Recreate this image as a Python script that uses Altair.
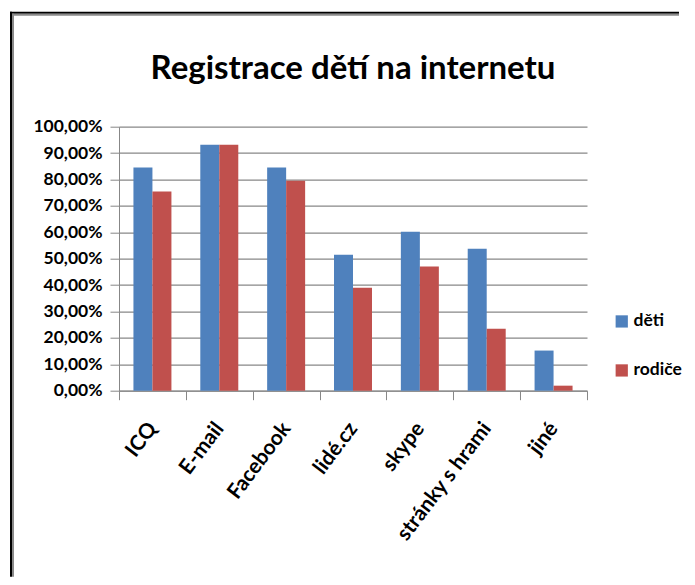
import altair as alt
import pandas as pd

categories = ["ICQ", "E-mail", "Facebook", "lidé.cz", "skype", "stránky s hrami", "jiné"]
series = ["děti", "rodiče"]
deti = [0.845, 0.932, 0.845, 0.515, 0.602, 0.538, 0.152]
rodice = [0.755, 0.932, 0.795, 0.390, 0.470, 0.235, 0.019]
colors = ["#4F81BD", "#C0504D"]
y_ticks = [0.0, 0.1, 0.2, 0.3, 0.4, 0.5, 0.6, 0.7, 0.8, 0.9, 1.0]
title_text = "Registrace dětí na internetu"

rows = []
for c, d, r in zip(categories, deti, rodice):
    rows.append({"kategorie": c, "skupina": series[0], "hodnota": d})
    rows.append({"kategorie": c, "skupina": series[1], "hodnota": r})
df = pd.DataFrame(rows)

FONT = "Lato"
GRID = "#878787"

bars = alt.Chart(df).mark_bar().encode(
    x=alt.X(
        "kategorie:N",
        sort=categories,
        scale=alt.Scale(paddingInner=0, paddingOuter=0),
        axis=alt.Axis(
            title=None,
            labelAngle=-53,
            labelAlign="right",
            labelBaseline="middle",
            labelFont=FONT,
            labelFontSize=21,
            labelFontWeight="bold",
            labelColor="black",
            labelPadding=25,
            labelOffset=0,
            tickBand="extent",
            tickSize=9,
            tickColor=GRID,
            domainColor=GRID,
            grid=False,
        ),
    ),
    xOffset=alt.XOffset("skupina:N", sort=series,
                        scale=alt.Scale(paddingOuter=0.76, paddingInner=0)),
    y=alt.Y(
        "hodnota:Q",
        scale=alt.Scale(domain=[0, 1], nice=False),
        axis=alt.Axis(
            title=None,
            values=y_ticks,
            labelExpr="replace(format(datum.value, '.2%'), '.', ',')",
            labelFont=FONT,
            labelFontSize=17.5,
            labelFontWeight="bold",
            labelColor="black",
            labelPadding=8,
            labelFlush=False,
            labelOverlap=False,
            tickSize=9,
            tickColor=GRID,
            domainColor=GRID,
            gridColor=GRID,
            gridWidth=1.2,
        ),
    ),
    color=alt.Color(
        "skupina:N",
        scale=alt.Scale(domain=series, range=colors),
        legend=alt.Legend(
            title=None,
            orient="none",
            legendX=494,
            legendY=186,
            symbolType="square",
            symbolSize=150,
            symbolStrokeWidth=0,
            labelFont=FONT,
            labelFontSize=17.5,
            labelFontWeight="bold",
            labelColor="black",
            labelOffset=3,
            rowPadding=30,
        ),
    ),
)

one = alt.Data(values=[{"k": 1}])
frame_top = alt.Chart(one).mark_rule(color="black", strokeWidth=2).encode(
    x=alt.value(-109), x2=alt.value(560), y=alt.value(-114))
frame_top2 = alt.Chart(one).mark_rule(color="#8a8a8a", strokeWidth=2).encode(
    x=alt.value(-107), x2=alt.value(560), y=alt.value(-112))
frame_left = alt.Chart(one).mark_rule(color="black", strokeWidth=2).encode(
    x=alt.value(-108), y=alt.value(-115), y2=alt.value(450))
frame_left2 = alt.Chart(one).mark_rule(color="#8a8a8a", strokeWidth=2).encode(
    x=alt.value(-106), y=alt.value(-113), y2=alt.value(450))

chart = alt.layer(bars, frame_top, frame_top2, frame_left, frame_left2).properties(
    width=468,
    height=264,
    title=alt.TitleParams(
        text=title_text,
        font=FONT,
        fontSize=33,
        fontWeight="bold",
        color="black",
        anchor="middle",
        baseline="alphabetic",
        offset=0,
        dy=101,
    ),
    autosize=alt.AutoSizeParams(type="none"),
    padding={"left": 111, "top": 118.7, "right": 100, "bottom": 186},
).configure_view(stroke=None)

chart.save("out.html", embed_options={"renderer": "svg", "actions": False})
